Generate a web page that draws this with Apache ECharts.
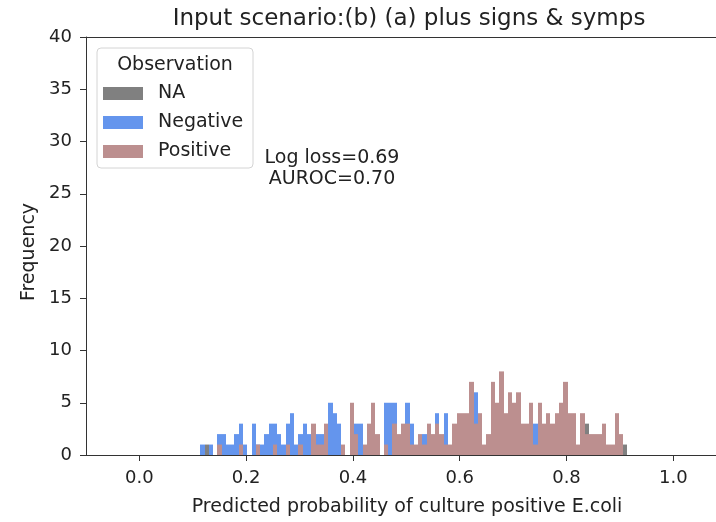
<!DOCTYPE html>
<html>
<head>
<meta charset="utf-8">
<script src="https://cdn.jsdelivr.net/npm/echarts@6/dist/echarts.min.js"></script>
<style>
  html, body { margin: 0; padding: 0; background: #fff; }
  #main { width: 716px; height: 522px; }
</style>
</head>
<body>
<div id="main"></div>
<script>
// histogram bins (common for all groups)
const binLow = 0.114;
const binHigh = 0.914;
const binCount = 100;

const seriesNames = ["NA", "Negative", "Positive"];
const seriesColors = ["#808080", "#6495ED", "#BC8F8F"];

// counts per bin
const naCounts = [
  0, 1, 0, 0, 0, 0, 0, 0, 0, 0,
  0, 0, 0, 0, 0, 0, 0, 0, 0, 0,
  0, 0, 0, 0, 0, 0, 0, 0, 0, 0,
  0, 0, 0, 0, 0, 0, 0, 0, 0, 0,
  0, 0, 0, 0, 0, 0, 0, 0, 0, 0,
  0, 0, 0, 0, 0, 0, 0, 0, 0, 0,
  0, 0, 0, 0, 0, 0, 0, 0, 0, 0,
  0, 0, 0, 0, 0, 0, 0, 0, 0, 0,
  0, 0, 0, 0, 0, 0, 0, 0, 0, 0,
  3, 0, 0, 0, 0, 0, 0, 0, 0, 1
];
const negativeCounts = [
  1, 0, 1, 0, 2, 2, 1, 1, 2, 3,
  1, 0, 3, 1, 1, 2, 3, 3, 2, 1,
  3, 4, 1, 2, 3, 2, 0, 2, 2, 0,
  5, 4, 3, 0, 0, 0, 3, 3, 0, 0,
  0, 0, 0, 5, 5, 5, 0, 0, 5, 3,
  0, 0, 2, 0, 0, 4, 0, 4, 0, 0,
  0, 0, 0, 0, 6, 0, 0, 0, 0, 0,
  0, 0, 0, 0, 0, 0, 0, 0, 3, 0,
  0, 0, 0, 0, 0, 0, 0, 0, 0, 0,
  0, 0, 0, 0, 0, 0, 0, 0, 0, 0
];
const positiveCounts = [
  0, 0, 0, 0, 1, 0, 0, 0, 0, 1,
  0, 0, 0, 1, 0, 0, 0, 1, 0, 0,
  1, 0, 0, 1, 0, 0, 3, 1, 1, 3,
  0, 0, 0, 1, 0, 5, 2, 0, 1, 3,
  5, 2, 0, 1, 0, 3, 2, 3, 3, 1,
  1, 2, 1, 3, 2, 3, 2, 1, 1, 3,
  4, 4, 4, 7, 3, 4, 1, 2, 7, 5,
  8, 4, 6, 5, 6, 3, 3, 5, 1, 5,
  3, 4, 3, 4, 5, 7, 4, 4, 1, 4,
  2, 2, 2, 2, 3, 1, 1, 4, 2, 0
];

const xTicks = [0.0, 0.2, 0.4, 0.6, 0.8, 1.0];

const binWidth = (binHigh - binLow) / binCount;

// turn counts into [left edge, right edge, count]
function toBins(counts) {
  return counts.map((c, i) => [binLow + i * binWidth, binLow + (i + 1) * binWidth, c]);
}

function renderBin(params, api) {
  const count = api.value(2);
  if (!count) return;
  const topLeft = api.coord([api.value(0), count]);
  const bottomRight = api.coord([api.value(1), 0]);
  // snap to whole pixels so neighbouring bins touch without seams
  const x0 = Math.round(topLeft[0]);
  const x1 = Math.round(bottomRight[0]);
  return {
    type: "rect",
    shape: {
      x: x0,
      y: topLeft[1],
      width: x1 - x0,
      height: bottomRight[1] - topLeft[1],
    },
    style: api.style(),
  };
}

const font = "DejaVu Sans";
const textColor = "#222";
const allCounts = [naCounts, negativeCounts, positiveCounts];

const options = {
  animation: false,
  grid: { left: 86, top: 37, width: 636, height: 420 },
  xAxis: [
    {
      type: "value",
      min: -0.1,
      max: 1.08,
      splitLine: { show: false },
      axisLine: { lineStyle: { color: "#333", width: 1 } },
      axisTick: { customValues: xTicks, length: 6, lineStyle: { color: "#333" } },
      axisLabel: {
        customValues: xTicks,
        formatter: (v) => v.toFixed(1),
        fontFamily: font,
        fontSize: 18,
        color: textColor,
        margin: 14,
      },
      name: "Predicted probability of culture positive E.coli",
      nameLocation: "middle",
      nameGap: 43,
      nameTextStyle: {
        fontFamily: font,
        fontSize: 19,
        color: textColor,
        padding: [0, 0, 0, 12],
      },
    },
    {
      type: "value",
      position: "top",
      min: -0.1,
      max: 1.08,
      splitLine: { show: false },
      axisLine: { lineStyle: { color: "#333", width: 1 } },
      axisTick: { show: false },
      axisLabel: { show: false },
    },
  ],
  yAxis: {
    type: "value",
    min: 0,
    max: 40,
    interval: 5,
    splitLine: { show: false },
    axisLine: { show: true, onZero: false, lineStyle: { color: "#333", width: 1 } },
    axisTick: { show: true, length: 6, lineStyle: { color: "#333" } },
    axisLabel: { fontFamily: font, fontSize: 18, color: textColor, margin: 14 },
    name: "Frequency",
    nameLocation: "middle",
    nameGap: 45,
    nameTextStyle: {
      fontFamily: font,
      fontSize: 19,
      color: textColor,
      padding: [0, 12, 0, 0],
    },
  },
  legend: {
    orient: "vertical",
    left: 98,
    top: 79,
    itemWidth: 40,
    itemHeight: 13,
    itemGap: 10,
    icon: "rect",
    data: seriesNames,
    textStyle: {
      fontFamily: font,
      fontSize: 19,
      color: textColor,
      padding: [0, 0, 0, 10],
    },
  },
  graphic: [
    {
      type: "text",
      x: 409,
      y: 19,
      style: {
        text: "Input scenario:(b) (a) plus signs & symps",
        font: "23px 'DejaVu Sans'",
        fill: textColor,
        textAlign: "center",
        textVerticalAlign: "middle",
      },
    },
    {
      type: "rect",
      shape: { x: 97, y: 48, width: 156, height: 120, r: 4 },
      style: { fill: "rgba(255,255,255,0.8)", stroke: "#d4d4d4", lineWidth: 1 },
      z: 0,
    },
    {
      type: "text",
      x: 175,
      y: 65,
      style: {
        text: "Observation",
        font: "19px 'DejaVu Sans'",
        fill: textColor,
        textAlign: "center",
        textVerticalAlign: "middle",
      },
    },
    {
      type: "text",
      x: 332,
      y: 169,
      style: {
        text: "Log loss=0.69\nAUROC=0.70",
        font: "19px 'DejaVu Sans'",
        lineHeight: 21,
        fill: textColor,
        textAlign: "center",
        textVerticalAlign: "middle",
      },
    },
  ],
  // drawn in order, so Positive covers Negative covers NA
  series: seriesNames.map((name, k) => ({
    name: name,
    type: "custom",
    renderItem: renderBin,
    xAxisIndex: 0,
    encode: { x: [0, 1], y: 2 },
    itemStyle: { color: seriesColors[k] },
    data: toBins(allCounts[k]),
  })),
};

let myChart = echarts.init(document.getElementById("main"));
myChart.setOption(options);
</script>
</body>
</html>
